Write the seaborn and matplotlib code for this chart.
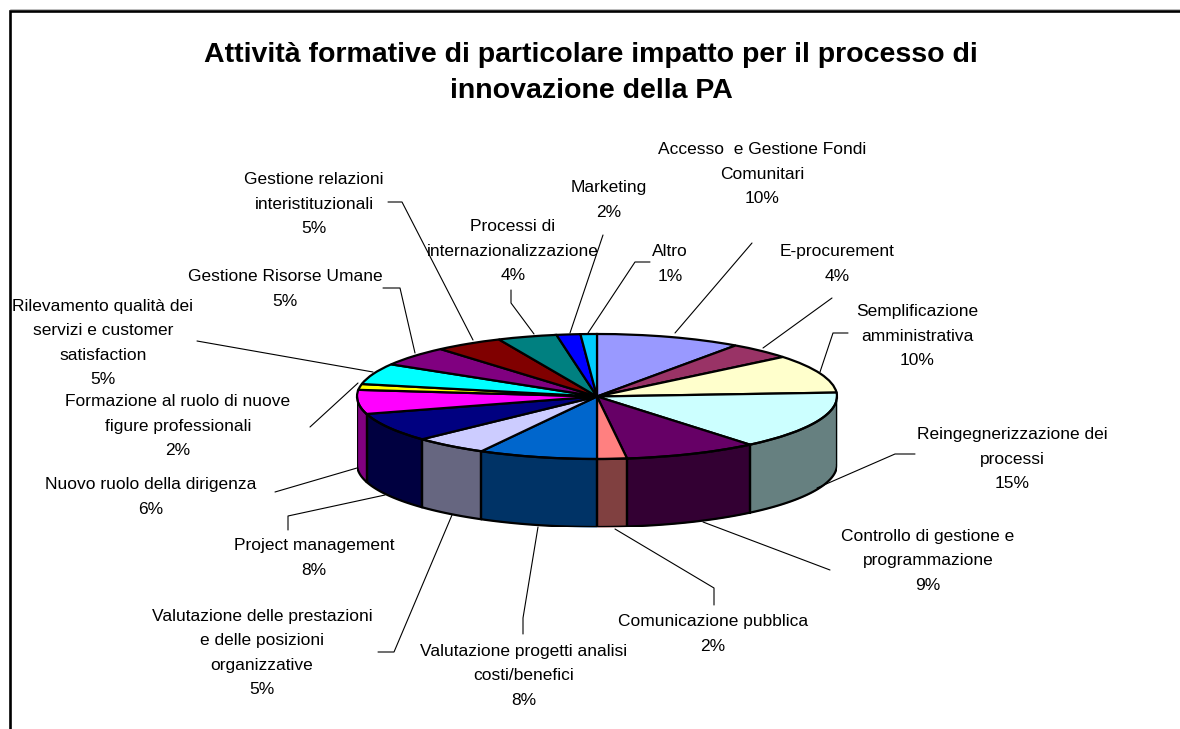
import numpy as np
import matplotlib
matplotlib.use("Agg")
import matplotlib.pyplot as plt
from matplotlib.colors import to_rgb
import seaborn as sns

TITLE = "Attività formative di particolare impatto per il processo di\ninnovazione della PA"
categories = [
    "Accesso  e Gestione Fondi\nComunitari", "E-procurement", "Semplificazione\namministrativa",
    "Reingegnerizzazione dei\nprocessi", "Controllo di gestione e\nprogrammazione",
    "Comunicazione pubblica", "Valutazione progetti analisi\ncosti/benefici",
    "Valutazione delle prestazioni\ne delle posizioni\norganizzative", "Project management",
    "Nuovo ruolo della dirigenza", "Formazione al ruolo di nuove\nfigure professionali",
    "Rilevamento qualità dei\nservizi e customer\nsatisfaction", "Gestione Risorse Umane",
    "Gestione relazioni\ninteristituzionali", "Processi di\ninternazionalizzazione",
    "Marketing", "Altro",
]
values = [9.8, 4.3, 9.9, 15.0, 9.0, 2.0, 8.0, 5.0, 7.5, 6.2, 1.5, 5.4, 5.1, 4.6, 4.0, 1.6, 1.1]
slice_colors = ["#9999FF", "#993366", "#FFFFCC", "#CCFFFF", "#660066", "#FF8080", "#0066CC", "#CCCCFF",
                "#000080", "#FF00FF", "#FFFF00", "#00FFFF", "#800080", "#800000", "#008080", "#0000FF", "#00CCFF"]
# label centre (px)
label_xy = [(762, 174), (837, 264), (917, 336), (1012, 459), (928, 561), (713, 634), (524, 676), (262, 653),
            (314, 558), (151, 497), (178, 426), (103, 343), (285, 289), (314, 204), (513, 251), (609, 200), (670, 264)]
leaders = [
    [(752, 243), (675, 333)], [(832, 298), (763, 348)], [(848, 333), (833, 333), (820, 372)],
    [(915, 454), (895, 454), (817, 488)], [(830, 570), (703, 522)], [(714, 605), (714, 588), (615, 529)],
    [(523, 634), (523, 618), (538, 527)], [(378, 652), (394, 652), (452, 515)], [(288, 530), (288, 516), (385, 495)],
    [(275, 492), (357, 468)], [(310, 427), (358, 383)], [(197, 341), (373, 372)],
    [(383, 288), (400, 288), (415, 353)], [(388, 202), (402, 202), (473, 340)], [(511, 290), (511, 303), (534, 334)],
    [(603, 235), (570, 333)], [(650, 262), (635, 262), (588, 333)],
]

W, H = 1180, 729
FONT = "Liberation Sans"
sns.set_theme(style="white")
plt.rcParams["font.family"] = FONT
palette = sns.color_palette(slice_colors)

fig = plt.figure(figsize=(W / 100, H / 100), dpi=100, facecolor="white")

# pie axes: x -1..1 spans 480 px, y 1..-1 spans 125 px, wall depth 68 px below
CX, CY, RX, RY, DEPTH = 597, 396.5, 240, 62.5, 68
LW = 1.6
d = DEPTH / RY
ax = fig.add_axes([(CX - RX) / W, 1 - (CY + RY + DEPTH) / H, 2 * RX / W, (2 * RY + DEPTH) / H])
wedges, _ = ax.pie(values, colors=palette, startangle=90, counterclock=False, radius=1,
                   wedgeprops=dict(edgecolor="black", linewidth=LW), center=(0, 0))
ax.set_aspect("auto")
ax.set_xlim(-1, 1)
ax.set_ylim(-1 - d, 1)
ax.axis("off")

# side walls from the same values: darker shade of each slice on the front half
edges = np.cumsum([0] + values) / sum(values) * 360
for i, c in enumerate(palette):
    a0, a1 = max(edges[i], 90), min(edges[i + 1], 270)
    if a1 <= a0:
        continue
    t = np.radians(np.linspace(a0, a1, 60))
    x, y = np.sin(t), np.cos(t)
    dark = tuple(0.5 * v for v in to_rgb(c))
    ax.fill_between(x, y - d, y, color=dark, lw=0, zorder=0.5)
    ax.plot(x, y - d, color="black", lw=LW, zorder=3, solid_capstyle="round")
    ax.plot(x, y, color="black", lw=LW, zorder=3)
    for xe, ye in ((x[0], y[0]), (x[-1], y[-1])):
        ax.plot([xe, xe], [ye, ye - d], color="black", lw=LW, zorder=3)

# overlay in pixels for frame, title, labels, leaders
ov = fig.add_axes([0, 0, 1, 1], facecolor="none")
ov.set_xlim(0, W)
ov.set_ylim(H, 0)
ov.axis("off")
ov.plot([9.5, 9.5, W], [H, 11, 11], color="black", lw=1.9, solid_joinstyle="miter")
ov.plot([10, W], [9, 9], color="#b0b0b0", lw=0.6)
ov.text(591, 73, TITLE, ha="center", va="center", fontsize=20.5, fontweight="bold", linespacing=1.49, color="black")
for cat, v, (lx, ly) in zip(categories, values, label_xy):
    ov.text(lx, ly, f"{cat}\n{int(v + 0.5)}%", ha="center", va="center", fontsize=12.5,
            linespacing=1.79, color="black")
for pts in leaders:
    xs, ys = zip(*pts)
    ov.plot(xs, ys, color="black", lw=0.8)

fig.savefig("out.png", dpi=100)
